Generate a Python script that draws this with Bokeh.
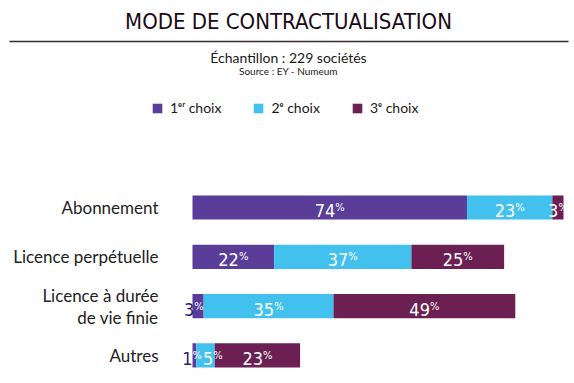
from bokeh.plotting import figure
from bokeh.models import ColumnDataSource, Range1d, Legend, LegendItem
from bokeh.core.properties import value
from bokeh.embed import file_html
from bokeh.resources import INLINE

# ---- data ----
categories = ["Abonnement", "Licence perpétuelle", "Licence à durée\nde vie finie", "Autres"]
series_names = ["1ᵉʳ choix", "2ᵉ choix", "3ᵉ choix"]
choix1 = [74, 22, 3, 1]
choix2 = [23, 37, 35, 5]
choix3 = [3, 25, 49, 23]
title_text = "MODE DE CONTRACTUALISATION"
subtitle_text = "Échantillon : 229 sociétés"
source_text = "Source : EY - Numeum"

# ---- layout constants (page px) ----
W, H = 570, 376
SX = 3.71            # px per percent
X0PX = 192           # px of value 0
SY = 49.3            # px per category step
XS = -X0PX / SX
XE = (W - X0PX) / SX
YT = len(categories) + 207 / SY
YB = YT - H / SY

def ry(cy):
    return YT - cy / SY

def rx(cx):
    return XS + cx / SX

colors = ["#5a3d99", "#43c1ee", "#6c1f52"]
NARROW = "'DejaVu Sans Condensed', 'Liberation Sans Narrow', sans-serif"
BODY = "Lato"
DIGIT_W, PCT_W = 10.3, 9.4

p = figure(width=W, height=H, x_range=Range1d(XS, XE), y_range=Range1d(YB, YT),
           x_axis_type=None, y_axis_type=None, toolbar_location=None,
           output_backend="svg", min_border=0)
p.outline_line_color = None
p.grid.visible = False

yv = [len(categories) - i for i in range(len(categories))]
src = ColumnDataSource(dict(y=yv, cat=categories, c1=choix1, c2=choix2, c3=choix3))

rs = p.hbar_stack(["c1", "c2", "c3"], y="y", height=0.49, color=colors,
                  line_color=None, source=src)

# category labels
p.text(x=0, y="y", text="cat", source=src, x_offset=-34, text_align="right",
       text_baseline="middle", text_font=value(BODY), text_font_size="17px",
       text_color="#222222", text_line_height=1.05)

# percent labels (number + small raised %), anchored at the segment in data units
nx, ny, nt, ncol, noff, pct = [], [], [], [], [], []
for i, vals in enumerate(zip(choix1, choix2, choix3)):
    left = 0
    prev_right_px = -1e9
    for s, v in enumerate(vals):
        ndig = len(str(v))
        wlab = ndig * DIGIT_W + PCT_W
        seg_px = v * SX
        seg_start_px = left * SX
        center_px = (left + v / 2) * SX
        small_first = (s == 0 and seg_px < wlab)
        if small_first:
            junction = max(seg_start_px, (left + v) * SX - PCT_W)
        else:
            start_px = center_px - wlab / 2
            if start_px < prev_right_px + 1:
                start_px = prev_right_px + 1
            junction = start_px + ndig * DIGIT_W
        prev_right_px = junction + PCT_W
        nx.append(left + v / 2)
        ny.append(yv[i])
        nt.append(str(v))
        pct.append("%")
        ncol.append("#2e1d6c" if small_first else "white")
        noff.append(junction - center_px)
        left += v
lsrc = ColumnDataSource(dict(x=nx, y=ny, t=nt, col=ncol, off=noff, pct=pct))
p.text(x="x", y="y", text="t", source=lsrc, x_offset="off", y_offset=3,
       text_align="right", text_baseline="alphabetic", text_color="col",
       text_font=value(NARROW), text_font_size="18px")
p.text(x="x", y="y", text="pct", source=lsrc, x_offset="off", y_offset=0,
       text_align="left", text_baseline="alphabetic", text_color="white",
       text_font=value(NARROW), text_font_size="11px")

# header
cxm = rx(288)
p.text(x=[cxm], y=[ry(20.5)], text=[title_text], text_align="center",
       text_baseline="alphabetic", text_font=value(NARROW), text_font_size="22px",
       text_color="#1a0a16")
p.segment(x0=[rx(9)], y0=[ry(41)], x1=[rx(568)], y1=[ry(41)],
          line_color="#3b2436", line_width=1.6)
p.text(x=[cxm], y=[ry(57)], text=[subtitle_text], text_align="center",
       text_baseline="alphabetic", text_font=value(BODY), text_font_size="14px",
       text_color="#1a1a1a")
p.text(x=[cxm], y=[ry(70.5)], text=[source_text], text_align="center",
       text_baseline="alphabetic", text_font=value(BODY), text_font_size="10px",
       text_color="#1a1a1a")

legend = Legend(items=[LegendItem(label=n, renderers=[r]) for n, r in zip(series_names, rs)],
                orientation="horizontal", location=(151, H - 116),
                padding=0, margin=0, spacing=31, label_standoff=7,
                glyph_width=12, glyph_height=12, border_line_alpha=0,
                background_fill_alpha=0, label_text_font=BODY,
                label_text_font_size="14px", label_text_color="#1a1a1a")
p.add_layout(legend, "center")

open("out.html", "w").write(file_html(p, INLINE))
